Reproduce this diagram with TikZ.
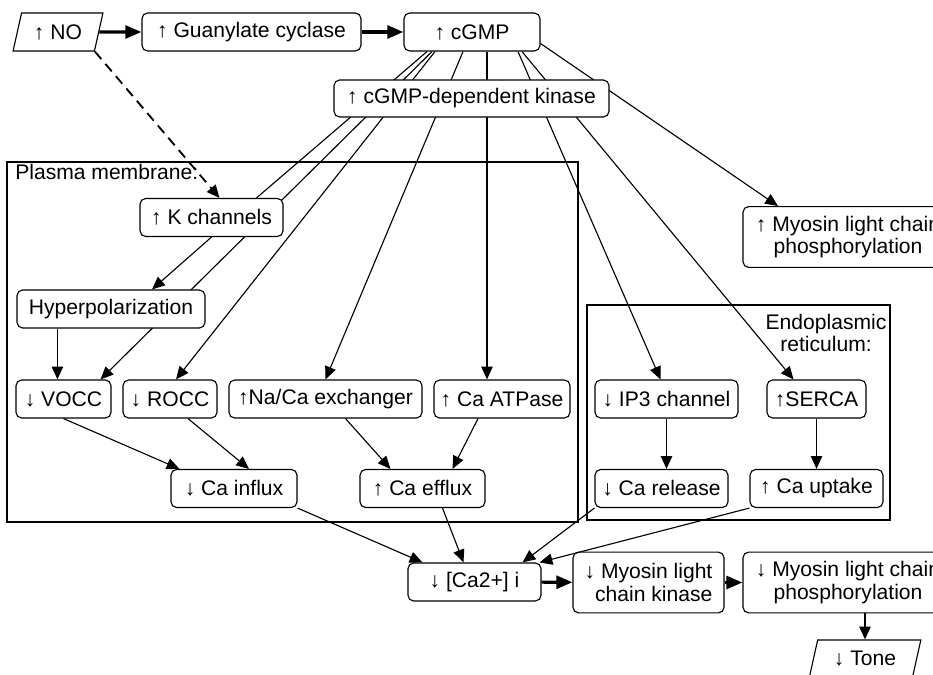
\documentclass[tikz,border=0pt]{standalone}
\usepackage{fontspec}
\setmainfont{Liberation Sans}
\usetikzlibrary{arrows.meta, positioning, shapes.geometric, backgrounds, calc}
\newcommand{\mainsize}{\fontsize{15}{16}\selectfont}
\tikzset{
  box/.style={rectangle, rounded corners=4pt, draw, fill=white, line width=0.8pt,
              minimum width=#1*0.025cm, minimum height=0.95cm,
              font=\mainsize, align=center, inner sep=1pt},
  tallbox/.style={box=#1, minimum height=1.52cm},
  para/.style={trapezium, trapezium left angle=72, trapezium right angle=108,
               trapezium stretches=true, draw, fill=white, line width=0.8pt,
               minimum width=#1*0.025cm, minimum height=0.95cm,
               font=\mainsize, inner sep=1pt},
  tag/.style={font=\mainsize, inner sep=0pt, align=center},
  arr/.style={-{Triangle[length=0.32cm, width=0.28cm]}, line width=0.8pt},
  downarr/.style={arr, line width=1.3pt},
  thickarr/.style={-{Triangle[length=0.4cm, width=0.32cm]}, line width=2.2pt},
  link/.style={line width=0.8pt},
  frame/.style={line width=0.8pt},
}
\begin{document}
\begin{tikzpicture}[x=0.025cm, y=-0.025cm]
      \useasboundingbox (0,0) rectangle (933,675);
      \clip (0,0) rectangle (933,675);

      % compartments
      \draw[frame] (7,162) rectangle (578,522);
      \draw[frame] (587,305) rectangle (890,520);
      \node[tag, anchor=base west] (pmtext) at (15,180) {Plasma membrane:};
      \node[tag] (ertext) at (826,333) {Endoplasmic\\reticulum:};

      % top chain
      \node[para=90] (no) at (58,32) {↑ NO};
      \node[box=219] (gc) at (251.5,32) {↑ Guanylate cyclase};
      \node[box=136] (cgmp) at (472,32) {↑ cGMP};
      \node[box=275, minimum height=0.925cm] (pkg) at (471.5,98.5)
            {↑ cGMP-dependent kinase};
      \node[tallbox=210] (mlcup) at (848,237)
            {↑ Myosin light chain\\phosphorylation};

      % plasma membrane
      \node[box=143] (kch) at (211.5,217.5) {↑ K channels};
      \node[box=188] (hyp) at (111,309) {Hyperpolarization};
      \node[box=95] (vocc) at (63.5,399) {↓ VOCC};
      \node[box=94] (rocc) at (170,399) {↓ ROCC};
      \node[box=193] (naca) at (325.5,399) {↑Na/Ca exchanger};
      \node[box=136] (atp) at (502,399) {↑ Ca ATPase};
      \node[box=126] (cainf) at (234,488.5) {↓ Ca influx};
      \node[box=125] (caeff) at (422.5,488.5) {↑ Ca efflux};

      % endoplasmic reticulum
      \node[box=143] (ip3) at (666.5,399) {↓ IP3 channel};
      \node[box=99] (serca) at (816.5,399) {↑SERCA};
      \node[box=133] (carel) at (661.5,488.5) {↓ Ca release};
      \node[box=133] (caup) at (816.5,488.5) {↑ Ca uptake};

      % bottom chain
      \node[box=133] (cai) at (474.5,582) {↓ [Ca2+] i};
      \node[tallbox=151, align=right] (mlck) at (648.5,582.5)
            {↓ Myosin light\\chain kinase};
      \node[tallbox=210] (mlcdn) at (848,582.5)
            {↓ Myosin light chain\\phosphorylation};
      \node[para=112] (tone) at (865,659) {↓ Tone};

      \draw[thickarr] (no) -- (gc);
      \draw[thickarr] (gc) -- (cgmp);
      \draw[arr, line width=1.3pt, dash pattern=on 7pt off 4.5pt] (no.bottom right corner)
            -- ($(kch.north)+(8,0)$);

      % cGMP fan, passing behind the kinase box
      \begin{scope}[on background layer]
        \draw[link] ($(cgmp.south)+(-45,0)$) -- ($(kch.north)+(45,0)$);
        \draw[arr] ($(cgmp.south)+(-40,0)$) -- ($(vocc.north)+(37,0)$);
        \draw[arr] ($(cgmp.south)+(-37,0)$) -- ($(rocc.north)+(6,0)$);
        \draw[arr] ($(cgmp.south)+(-9,0)$) -- (naca.north);
        \draw[downarr] ($(cgmp.south)+(15,0)$) -- ($(atp.north)+(-15,0)$);
        \draw[arr] ($(cgmp.south)+(46,0)$) -- ($(ip3.north)+(-6,0)$);
        \draw[arr] ($(cgmp.south)+(50,0)$) -- ($(serca.north)+(-23,0)$);
        \draw[arr] ($(cgmp.south east)+(0,-8)$) -- ($(mlcup.north)+(-70,0)$);
      \end{scope}

      \draw[arr] (kch.south) -- ($(hyp.north)+(41,0)$);
      \draw[downarr] ($(hyp.south west)+(41,0)$) -- ($(vocc.north west)+(42,0)$);
      \draw[arr] (vocc.south) -- ($(cainf.north west)+(9,0)$);
      \draw[arr] ($(rocc.south)+(18,0)$) -- ($(cainf.north)+(15,0)$);
      \draw[arr] ($(naca.south)+(20,0)$) -- ($(caeff.north)+(-32,0)$);
      \draw[arr] ($(atp.south)+(-24,0)$) -- ($(caeff.north)+(30,0)$);
      \draw[downarr] (ip3.south) -- (ip3.south |- carel.north);
      \draw[downarr] (serca) -- (caup);

      % into the cytosolic calcium
      \draw[arr] (cainf.south east) -- ($(cai.north)+(-52,0)$);
      \draw[arr] ($(caeff.south)+(20,0)$) -- ($(cai.north)+(-11,0)$);
      \draw[arr] (carel.south west) -- ($(cai.north)+(48,0)$);
      \draw[arr] (caup.south west) -- ($(cai.north east)+(-2,0)$);

      \draw[thickarr] (cai) -- (mlck);
      \draw[thickarr] (mlck) -- (mlcdn);
      \draw[downarr] (mlcdn.south -| tone.north) -- (tone.north);
\end{tikzpicture}
\end{document}
